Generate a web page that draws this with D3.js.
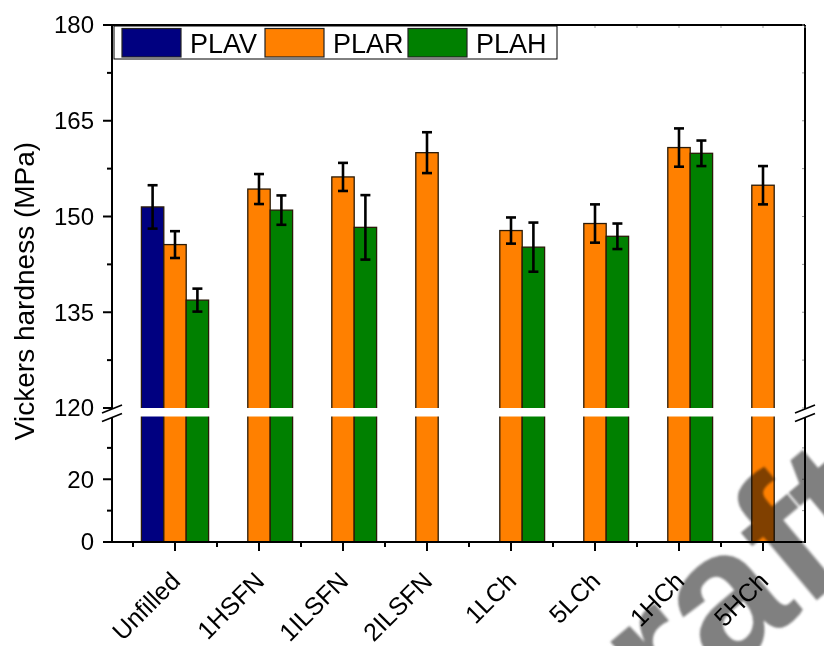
<!DOCTYPE html>
<html>
<head>
<meta charset="utf-8">
<script src="https://cdn.jsdelivr.net/npm/d3@7"></script>
<style>
  html, body { margin: 0; padding: 0; background: #fff; }
  svg { display: block; font-family: Arial, "Liberation Sans", sans-serif; }
</style>
</head>
<body>
<svg id="chart" width="824" height="646"></svg>
<script>
// Vickers hardness per filler type, three matrix series
const categories = ["Unfilled", "1HSFN", "1ILSFN", "2ILSFN", "1LCh", "5LCh", "1HCh", "5HCh"];
const seriesNames = ["PLAV", "PLAR", "PLAH"];
const seriesColors = ["#000080", "#FF8000", "#008000"];
const plavValues = [151.5, null, null, null, null, null, null, null];
const plavErrors = [3.4, null, null, null, null, null, null, null];
const plarValues = [145.6, 154.3, 156.2, 160.0, 147.8, 148.9, 160.8, 154.9];
const plarErrors = [2.1, 2.35, 2.2, 3.2, 2.05, 3.0, 3.0, 3.0];
const plahValues = [136.9, 151.0, 148.3, null, 145.2, 146.9, 159.9, null];
const plahErrors = [1.8, 2.3, 5.05, null, 3.85, 2.0, 2.0, null];
const upperTicks = [120, 135, 150, 165, 180];
const upperMinor = [127.5, 142.5, 157.5, 172.5];
const lowerTicks = [0, 20];
const lowerMinor = [10, 30];

const values = [plavValues, plarValues, plahValues];
const errors = [plavErrors, plarErrors, plahErrors];

const svg = d3.select("#chart");
const pLeft = 112, pRight = 805, pTop = 25, pBottom = 542;

// broken y axis: lower segment 0–40, upper segment 120–180
const x = d3.scaleLinear().domain([0.25, 8.5]).range([pLeft, pRight]);
const yUp = d3.scaleLinear().domain([120, 180]).range([408, pTop]);
const yLo = d3.scaleLinear().domain([0, 40]).range([pBottom, 416.5]);
const barW = 0.8 / 3;

const bars = [];
values.forEach((vals, s) => {
  vals.forEach((v, i) => {
    if (v == null) return;
    bars.push({ s, i, v, e: errors[s][i] });
  });
});

function xc(d) { return d.i + 1 + (d.s - 1) * barW; }

const g = svg.append("g");

// bars
g.selectAll("rect.bar").data(bars).enter().append("rect")
  .attr("class", "bar")
  .attr("x", d => x(xc(d) - barW / 2))
  .attr("width", d => x(xc(d) + barW / 2) - x(xc(d) - barW / 2))
  .attr("y", d => yUp(d.v))
  .attr("height", d => yLo(0) - yUp(d.v))
  .attr("fill", d => seriesColors[d.s])
  .attr("stroke", "#2a1a08")
  .attr("stroke-width", 1.3);

// white gap where the axis is broken
g.append("rect")
  .attr("x", pLeft + 2).attr("width", pRight - pLeft - 4)
  .attr("y", yUp(120)).attr("height", yLo(40) - yUp(120))
  .attr("fill", "#fff");

// error bars
const eb = g.selectAll("g.err").data(bars).enter().append("g")
  .attr("stroke", "#000").attr("stroke-width", 2.6).attr("fill", "none");
eb.append("line")
  .attr("x1", d => x(xc(d))).attr("x2", d => x(xc(d)))
  .attr("y1", d => yUp(d.v + d.e)).attr("y2", d => yUp(d.v - d.e));
[1, -1].forEach(sg => {
  eb.append("line")
    .attr("x1", d => x(xc(d)) - 5).attr("x2", d => x(xc(d)) + 5)
    .attr("y1", d => yUp(d.v + sg * d.e)).attr("y2", d => yUp(d.v + sg * d.e));
});

// frame
const ax = svg.append("g").attr("stroke", "#000").attr("stroke-width", 2).attr("fill", "none");
ax.append("line").attr("x1", pLeft).attr("x2", pRight).attr("y1", pTop).attr("y2", pTop);
ax.append("line").attr("x1", pLeft - 1).attr("x2", pRight + 1).attr("y1", pBottom).attr("y2", pBottom);
[pLeft, pRight].forEach(px => {
  ax.append("line").attr("x1", px).attr("x2", px).attr("y1", pTop).attr("y2", 409);
  ax.append("line").attr("x1", px).attr("x2", px).attr("y1", 417.5).attr("y2", pBottom);
  // break marks
  [409, 417.5].forEach(cy => {
    ax.append("line")
      .attr("x1", px - 10).attr("y1", cy + 4)
      .attr("x2", px + 10).attr("y2", cy - 4)
      .attr("stroke-width", 1.8);
  });
});

// left axis ticks and labels
const tickG = svg.append("g").attr("stroke", "#000").attr("stroke-width", 2);
upperTicks.forEach(t => tickG.append("line").attr("x1", pLeft - 9).attr("x2", pLeft).attr("y1", yUp(t)).attr("y2", yUp(t)));
upperMinor.forEach(t => tickG.append("line").attr("x1", pLeft - 5).attr("x2", pLeft).attr("y1", yUp(t)).attr("y2", yUp(t)));
lowerTicks.forEach(t => tickG.append("line").attr("x1", pLeft - 9).attr("x2", pLeft).attr("y1", yLo(t)).attr("y2", yLo(t)));
lowerMinor.forEach(t => tickG.append("line").attr("x1", pLeft - 5).attr("x2", pLeft).attr("y1", yLo(t)).attr("y2", yLo(t)));

// small inner ticks on the top and right borders
const faint = svg.append("g").attr("stroke", "#999").attr("stroke-width", 1);
d3.range(0.5, 8.51, 0.5).forEach(v => faint.append("line").attr("x1", x(v)).attr("x2", x(v)).attr("y1", pTop + 1).attr("y2", pTop + 3));
upperTicks.concat(upperMinor).forEach(t => faint.append("line").attr("x1", pRight - 3).attr("x2", pRight - 1).attr("y1", yUp(t)).attr("y2", yUp(t)));
lowerTicks.concat(lowerMinor).forEach(t => faint.append("line").attr("x1", pRight - 3).attr("x2", pRight - 1).attr("y1", yLo(t)).attr("y2", yLo(t)));

const labels = svg.append("g").attr("font-size", 24).attr("fill", "#000");
upperTicks.forEach(t => labels.append("text").attr("x", pLeft - 18).attr("y", yUp(t)).attr("dy", "0.35em").attr("text-anchor", "end").text(t));
lowerTicks.forEach(t => labels.append("text").attr("x", pLeft - 18).attr("y", yLo(t)).attr("dy", "0.35em").attr("text-anchor", "end").text(t));

// bottom axis ticks and rotated category names
categories.forEach((c, i) => {
  tickG.append("line").attr("x1", x(i + 1)).attr("x2", x(i + 1)).attr("y1", pBottom).attr("y2", pBottom + 9);
  tickG.append("line").attr("x1", x(i + 0.5)).attr("x2", x(i + 0.5)).attr("y1", pBottom).attr("y2", pBottom + 5);
  labels.append("text")
    .attr("transform", `translate(${x(i + 1) - 6},${pBottom + 28}) rotate(-45)`)
    .attr("text-anchor", "end")
    .attr("font-size", 25)
    .attr("dy", "0.72em")
    .text(c);
});

// y axis title
svg.append("text")
  .attr("transform", `translate(34,291) rotate(-90)`)
  .attr("text-anchor", "middle")
  .attr("font-size", 28)
  .text("Vickers hardness (MPa)");

// legend
const leg = svg.append("g");
leg.append("rect").attr("x", 114).attr("y", 26).attr("width", 443).attr("height", 33)
  .attr("fill", "#fff").attr("stroke", "#000").attr("stroke-width", 1);
const legX = [122, 265, 408];
seriesNames.forEach((n, s) => {
  leg.append("rect").attr("x", legX[s]).attr("y", 28.5).attr("width", 59).attr("height", 28.5)
    .attr("fill", seriesColors[s]).attr("stroke", "#222").attr("stroke-width", 1.2);
  leg.append("text").attr("x", legX[s] + 68).attr("y", 52.5).attr("font-size", 27).text(n);
});

// watermark
const defs = svg.append("defs");
defs.append("filter").attr("id", "soft").append("feGaussianBlur").attr("stdDeviation", 1.2);
svg.append("text")
  .attr("transform", "translate(560,815) rotate(-40)")
  .attr("font-size", 190)
  .attr("font-weight", "bold")
  .attr("fill", "#808080")
  .attr("filter", "url(#soft)")
  .style("mix-blend-mode", "multiply")
  .text("Draft");
</script>
</body>
</html>
